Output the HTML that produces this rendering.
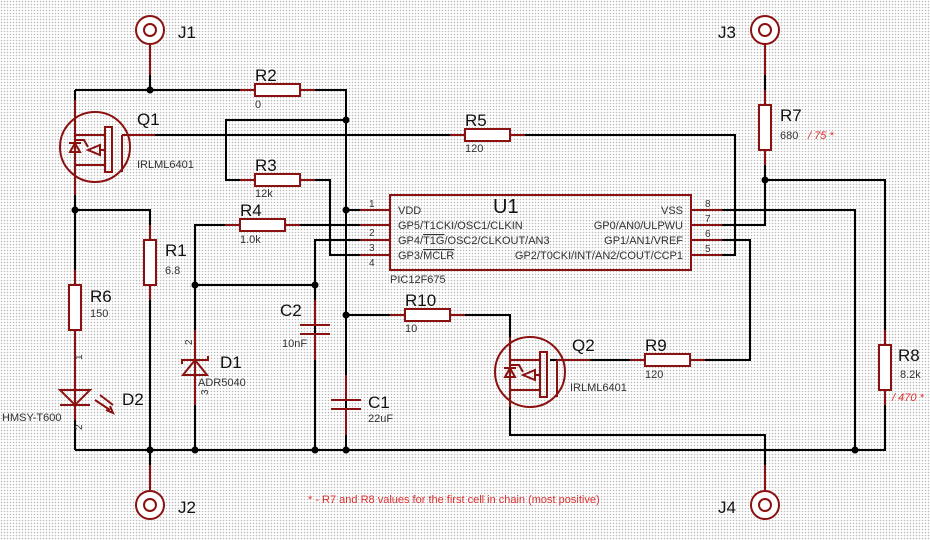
<!DOCTYPE html>
<html><head><meta charset="utf-8"><style>
html,body{margin:0;padding:0;}
body{width:930px;height:540px;overflow:hidden;background-color:#fff;
background-image:radial-gradient(circle,#b8b8b8 0.6px,transparent 0.9px);background-size:3px 3px;}
svg{position:absolute;left:0;top:0;font-family:"Liberation Sans",sans-serif;}
</style></head><body>
<svg width="930" height="540" viewBox="0 0 930 540">
<defs>
<g id="fet">
 <circle cx="95" cy="147" r="35" fill="none" stroke="#8b1010" stroke-width="2"/>
 <rect x="105" y="127" width="7" height="45" fill="none" stroke="#8b1010" stroke-width="2"/>
 <line x1="122" y1="135" x2="122" y2="172" stroke="#8b1010" stroke-width="2"/>
 <line x1="122" y1="135" x2="155" y2="135" stroke="#8b1010" stroke-width="2"/>
 <line x1="75" y1="135" x2="105" y2="135" stroke="#8b1010" stroke-width="2"/>
 <line x1="75" y1="165" x2="105" y2="165" stroke="#8b1010" stroke-width="2"/>
 <line x1="75" y1="112" x2="75" y2="182" stroke="#8b1010" stroke-width="2"/>
 <polygon points="75,143 70,152 80,152" fill="none" stroke="#8b1010" stroke-width="2"/>
 <line x1="69" y1="143" x2="81" y2="143" stroke="#8b1010" stroke-width="2"/>
 <polyline points="75,140 84,140 88,147" fill="none" stroke="#8b1010" stroke-width="2"/>
 <polygon points="88,150 100,145 100,155" fill="none" stroke="#8b1010" stroke-width="2"/>
 <line x1="100" y1="150" x2="105" y2="150" stroke="#8b1010" stroke-width="2"/>
</g>
</defs>
<g stroke="#000" stroke-width="2" fill="none">
<!-- wires -->
<polyline points="150,45 150,90"/>
<polyline points="75,90 346,90 346,450"/>
<polyline points="75,90 75,450"/>
<polyline points="346,120 226,120 226,180 255,180"/>
<polyline points="300,180 330,180 330,255 390,255"/>
<polyline points="125,135 735,135 735,255 690,255"/>
<polyline points="346,210 390,210"/>
<polyline points="195,450 195,225 240,225"/>
<polyline points="285,225 390,225"/>
<polyline points="390,240 315,240 315,450"/>
<polyline points="195,285 315,285"/>
<polyline points="75,210 150,210 150,450"/>
<polyline points="75,450 855,450"/>
<polyline points="150,450 150,490"/>
<polyline points="690,210 855,210 855,450 885,450 885,180 765,180"/>
<polyline points="765,45 765,225 690,225"/>
<polyline points="690,240 750,240 750,360 690,360"/>
<polyline points="645,360 550,360"/>
<polyline points="346,315 510,315 510,435 765,435 765,490"/>
</g>
<g fill="#000">
<circle cx="150" cy="90" r="3.5"/><circle cx="346" cy="120" r="3.5"/><circle cx="346" cy="210" r="3.5"/>
<circle cx="75" cy="210" r="3.5"/><circle cx="195" cy="285" r="3.5"/><circle cx="315" cy="285" r="3.5"/>
<circle cx="346" cy="315" r="3.5"/><circle cx="150" cy="450" r="3.5"/><circle cx="195" cy="450" r="3.5"/>
<circle cx="315" cy="450" r="3.5"/><circle cx="346" cy="450" r="3.5"/><circle cx="855" cy="450" r="3.5"/>
<circle cx="765" cy="180" r="3.5"/>
</g>
<g stroke="#8b1010" stroke-width="2" fill="#fff">
<!-- connectors -->
<circle cx="150" cy="30" r="14"/><circle cx="150" cy="30" r="6"/>
<circle cx="150" cy="505" r="14"/><circle cx="150" cy="505" r="6"/>
<circle cx="765" cy="30" r="14"/><circle cx="765" cy="30" r="6"/>
<circle cx="765" cy="505" r="14"/><circle cx="765" cy="505" r="6"/>
<line x1="150" y1="44" x2="150" y2="75"/><line x1="150" y1="490" x2="150" y2="465"/>
<line x1="765" y1="44" x2="765" y2="75"/><line x1="765" y1="490" x2="765" y2="465"/>
<!-- horizontal resistors -->
<rect x="255" y="84" width="45" height="12"/><line x1="240" y1="90" x2="255" y2="90"/><line x1="300" y1="90" x2="315" y2="90"/>
<rect x="255" y="174" width="45" height="12"/><line x1="240" y1="180" x2="255" y2="180"/><line x1="300" y1="180" x2="315" y2="180"/>
<rect x="240" y="219" width="45" height="12"/><line x1="225" y1="225" x2="240" y2="225"/><line x1="285" y1="225" x2="300" y2="225"/>
<rect x="465" y="129" width="45" height="12"/><line x1="450" y1="135" x2="465" y2="135"/><line x1="510" y1="135" x2="525" y2="135"/>
<rect x="405" y="309" width="45" height="12"/><line x1="390" y1="315" x2="405" y2="315"/><line x1="450" y1="315" x2="465" y2="315"/>
<rect x="645" y="354" width="45" height="12"/><line x1="630" y1="360" x2="645" y2="360"/><line x1="690" y1="360" x2="705" y2="360"/>
<!-- vertical resistors -->
<rect x="144" y="240" width="12" height="45"/><line x1="150" y1="225" x2="150" y2="240"/><line x1="150" y1="285" x2="150" y2="300"/>
<rect x="69" y="285" width="12" height="45"/><line x1="75" y1="270" x2="75" y2="285"/><line x1="75" y1="330" x2="75" y2="345"/>
<rect x="759" y="105" width="12" height="45"/><line x1="765" y1="90" x2="765" y2="105"/><line x1="765" y1="150" x2="765" y2="165"/>
<rect x="879" y="345" width="12" height="45"/><line x1="885" y1="330" x2="885" y2="345"/><line x1="885" y1="390" x2="885" y2="405"/>
<!-- capacitors -->
<line x1="315" y1="300" x2="315" y2="325"/><line x1="315" y1="334" x2="315" y2="360"/>
<line x1="300" y1="325" x2="330" y2="325"/><line x1="300" y1="334" x2="330" y2="334"/>
<line x1="346" y1="375" x2="346" y2="400"/><line x1="346" y1="409" x2="346" y2="435"/>
<line x1="331" y1="400" x2="361" y2="400"/><line x1="331" y1="409" x2="361" y2="409"/>
<!-- D1 zener -->
<line x1="195" y1="330" x2="195" y2="405"/>
<polygon points="195,360 183,375 207,375" fill="none"/>
<polyline points="182,364 182,360 208,360 208,356" fill="none"/>
<!-- D2 LED -->
<line x1="75" y1="345" x2="75" y2="420"/>
<polygon points="60,390 90,390 75,405" fill="none"/>
<line x1="60" y1="405" x2="90" y2="405"/>
<line x1="95" y1="400" x2="110" y2="410"/><line x1="100" y1="395" x2="113" y2="405"/>
<polyline points="106,410 113,413 110,406" fill="none"/>
<!-- IC -->
<rect x="390" y="195" width="301" height="75" fill="none"/>
<line x1="360" y1="210" x2="390" y2="210"/><line x1="360" y1="225" x2="390" y2="225"/>
<line x1="360" y1="240" x2="390" y2="240"/><line x1="360" y1="255" x2="390" y2="255"/>
<line x1="691" y1="210" x2="722" y2="210"/><line x1="691" y1="225" x2="722" y2="225"/>
<line x1="691" y1="240" x2="722" y2="240"/><line x1="691" y1="255" x2="722" y2="255"/>
<!-- fet leads -->
<line x1="75" y1="100" x2="75" y2="115"/><line x1="75" y1="182" x2="75" y2="195"/>
</g>
<use href="#fet"/>
<use href="#fet" transform="translate(435,225)"/>
<g fill="#111" font-size="17">
<text x="178" y="38">J1</text><text x="178" y="513">J2</text>
<text x="718" y="38">J3</text><text x="718" y="513">J4</text>
<text x="137" y="125">Q1</text><text x="572" y="351">Q2</text>
<text x="255" y="81">R2</text><text x="255" y="171">R3</text><text x="240" y="216">R4</text>
<text x="465" y="126">R5</text><text x="165" y="256">R1</text><text x="90" y="302">R6</text>
<text x="405" y="306">R10</text><text x="645" y="351">R9</text><text x="780" y="121">R7</text><text x="898" y="361">R8</text>
<text x="122" y="405">D2</text><text x="220" y="368">D1</text><text x="280" y="316">C2</text><text x="368" y="408">C1</text>
<text x="493" y="213" font-size="20">U1</text>
</g>
<g fill="#333" font-size="11">
<text x="255" y="108">0</text><text x="255" y="197">12k</text><text x="240" y="243">1.0k</text>
<text x="465" y="152">120</text><text x="165" y="274">6.8</text><text x="90" y="317">150</text>
<text x="405" y="332">10</text><text x="645" y="378">120</text><text x="780" y="139">680</text><text x="900" y="378">8.2k</text>
<text x="137" y="168">IRLML6401</text><text x="570" y="391">IRLML6401</text>
<text x="2" y="421">HMSY-T600</text><text x="198" y="386">ADR5040</text>
<text x="282" y="347">10nF</text><text x="368" y="422">22uF</text><text x="390" y="283">PIC12F675</text>
<text x="398" y="214">VDD</text><text x="398" y="229">GP5/T1CKI/OSC1/CLKIN</text>
<text x="398" y="244">GP4/<tspan text-decoration="overline">T1G</tspan>/OSC2/CLKOUT/AN3</text>
<text x="398" y="259">GP3/<tspan text-decoration="overline">MCLR</tspan></text>
<g text-anchor="end"><text x="683" y="214">VSS</text><text x="683" y="229">GP0/AN0/ULPWU</text>
<text x="683" y="244">GP1/AN1/VREF</text><text x="683" y="259">GP2/T0CKI/INT/AN2/COUT/CCP1</text></g>
<text x="369" y="207" font-size="10">1</text><text x="369" y="236" font-size="10">2</text>
<text x="369" y="251" font-size="10">3</text><text x="369" y="266" font-size="10">4</text>
<text x="705" y="207" font-size="10">8</text><text x="705" y="222" font-size="10">7</text>
<text x="705" y="237" font-size="10">6</text><text x="705" y="252" font-size="10">5</text>
<text transform="translate(82,360) rotate(-90)" font-size="10">1</text>
<text transform="translate(82,430) rotate(-90)" font-size="10">2</text>
<text transform="translate(192,345) rotate(-90)" font-size="10">2</text>
<text transform="translate(208,395) rotate(-90)" font-size="10">3</text>
</g>
<g fill="#e03030" font-size="11">
<text x="808" y="139" font-style="italic">/ 75 *</text>
<text x="892" y="401" font-style="italic">/ 470 *</text>
<text x="308" y="503">* - R7 and R8 values for the first cell in chain (most positive)</text>
</g>
</svg>
</body></html>
